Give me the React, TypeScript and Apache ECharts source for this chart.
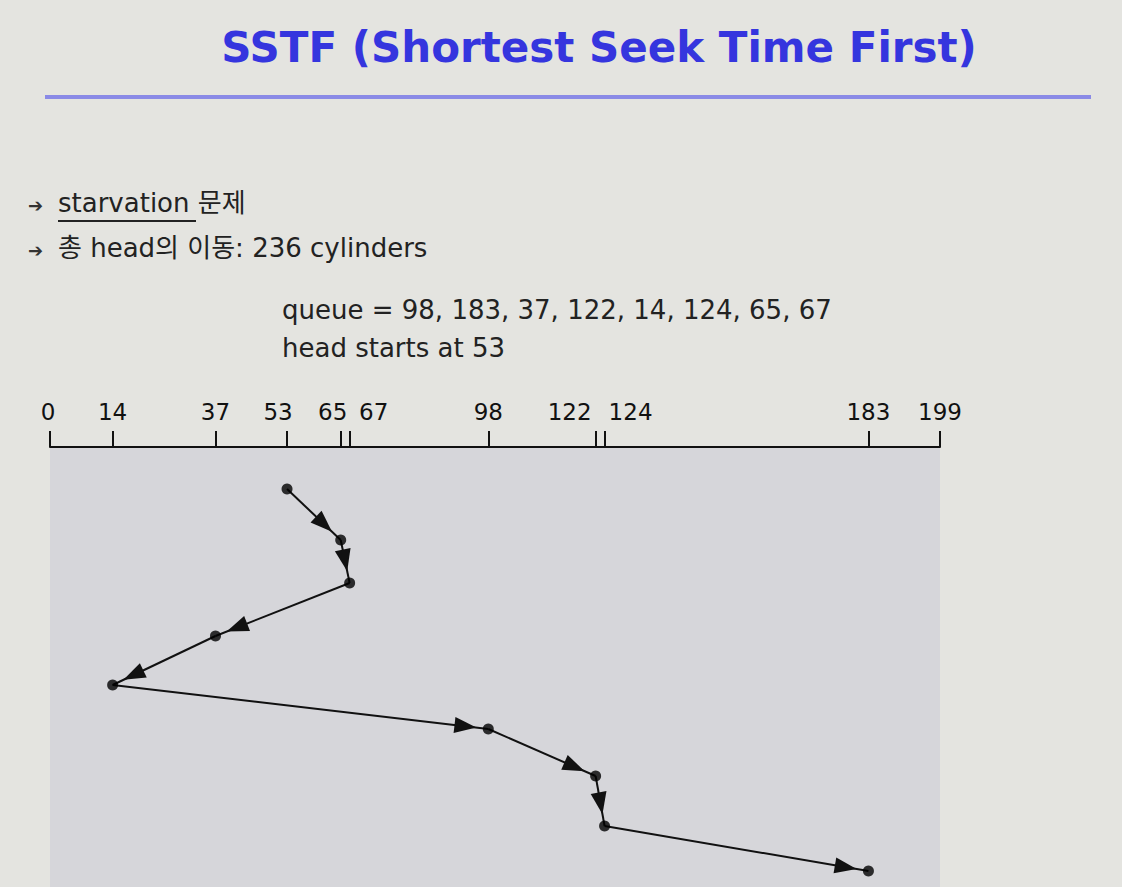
import { useEffect, useRef } from "react";
import * as echarts from "echarts";

// cylinder tick labels on the top axis
const cylinderTicks = [0, 14, 37, 53, 65, 67, 98, 122, 124, 183, 199];
// service order of the head (cylinders) and vertical step position (time)
const headOrder = [53, 65, 67, 37, 14, 98, 122, 124, 183];
const stepTime = [42, 93, 136, 189, 238, 282, 329, 379, 424];
const queue = [98, 183, 37, 122, 14, 124, 65, 67];

// label shifts so crowded labels do not overlap
const labelShift: Record<number, number> = { 0: -2, 53: -9, 65: -8, 67: 24, 122: -26, 124: 26 };

export default function App() {
  const ref = useRef<HTMLDivElement | null>(null);

  useEffect(() => {
    document.body.style.margin = "0";
    if (!ref.current) return;
    const chart = echarts.init(ref.current, null, { renderer: "svg" });
    const points = headOrder.map((c, i) => [c, stepTime[i]]);
    const segs = points.slice(1).map((p, i) => [...points[i], ...p]);

    const rich: Record<string, any> = {};
    cylinderTicks.forEach((v) => {
      const s = labelShift[v] || 0;
      rich["t" + v] = {
        fontSize: 23,
        color: "#111",
        fontFamily: "DejaVu Sans",
        padding: s < 0 ? [0, -2 * s, 0, 0] : [0, 0, 0, 2 * s],
      };
    });

    const font = "DejaVu Sans, Noto Sans CJK KR, sans-serif";
    chart.setOption({
      animation: false,
      backgroundColor: "#e4e4e0",
      grid: {
        left: 50, width: 890, top: 447, bottom: 0,
        show: true, backgroundColor: "#d6d6da", borderWidth: 0,
      },
      xAxis: {
        type: "value", min: 0, max: 199, position: "top",
        splitLine: { show: false },
        axisLine: { lineStyle: { color: "#111", width: 2 } },
        axisTick: { customValues: cylinderTicks, length: 16, lineStyle: { color: "#111", width: 2 } },
        axisLabel: {
          customValues: cylinderTicks, margin: 24,
          formatter: (v: number) => `{t${v}|${v}}`, rich,
        },
      },
      yAxis: { type: "value", min: 0, max: 440, inverse: true, show: false },
      graphic: [
        { type: "text", x: 599, y: 26, style: { text: "SSTF (Shortest Seek Time First)", align: "center", fontSize: 42, fontWeight: "bold", fill: "#3535de", fontFamily: "DejaVu Sans" } },
        { type: "rect", shape: { x: 45, y: 95, width: 1046, height: 4 }, style: { fill: "#8a8ae6" } },
        { type: "text", x: 28, y: 196, style: { text: "➔", fontSize: 18, fill: "#333", fontFamily: "DejaVu Sans" } },
        { type: "text", x: 58, y: 190, style: { text: "starvation 문제", fontSize: 26, fill: "#222", fontFamily: font } },
        { type: "rect", shape: { x: 58, y: 220, width: 138, height: 2 }, style: { fill: "#222" } },
        { type: "text", x: 28, y: 241, style: { text: "➔", fontSize: 18, fill: "#333", fontFamily: "DejaVu Sans" } },
        { type: "text", x: 58, y: 235, style: { text: "총 head의 이동: 236 cylinders", fontSize: 26, fill: "#222", fontFamily: font } },
        { type: "text", x: 282, y: 297, style: { text: "queue = " + queue.join(", "), fontSize: 26, fill: "#222", fontFamily: font } },
        { type: "text", x: 282, y: 335, style: { text: "head starts at " + headOrder[0], fontSize: 26, fill: "#222", fontFamily: font } },
      ],
      series: [
        {
          type: "custom",
          data: segs,
          renderItem: (params: any, api: any) => {
            const a = api.coord([api.value(0), api.value(1)]);
            const b = api.coord([api.value(2), api.value(3)]);
            const dx = b[0] - a[0], dy = b[1] - a[1];
            const len = Math.hypot(dx, dy);
            const ux = dx / len, uy = dy / len;
            const tip = [b[0] - ux * 12, b[1] - uy * 12];
            const base = [tip[0] - ux * 22, tip[1] - uy * 22];
            const nx = -uy * 8, ny = ux * 8;
            return {
              type: "group",
              children: [
                { type: "line", shape: { x1: a[0], y1: a[1], x2: b[0], y2: b[1] }, style: { stroke: "#111", lineWidth: 2 } },
                { type: "polygon", shape: { points: [tip, [base[0] + nx, base[1] + ny], [base[0] - nx, base[1] - ny]] }, style: { fill: "#111" } },
              ],
            };
          },
        },
        {
          type: "scatter", data: points, symbolSize: 11,
          itemStyle: { color: "#000" }, z: 5,
        },
      ],
    });
    return () => chart.dispose();
  }, []);

  return <div ref={ref} style={{ width: 1122, height: 887 }} />;
}
